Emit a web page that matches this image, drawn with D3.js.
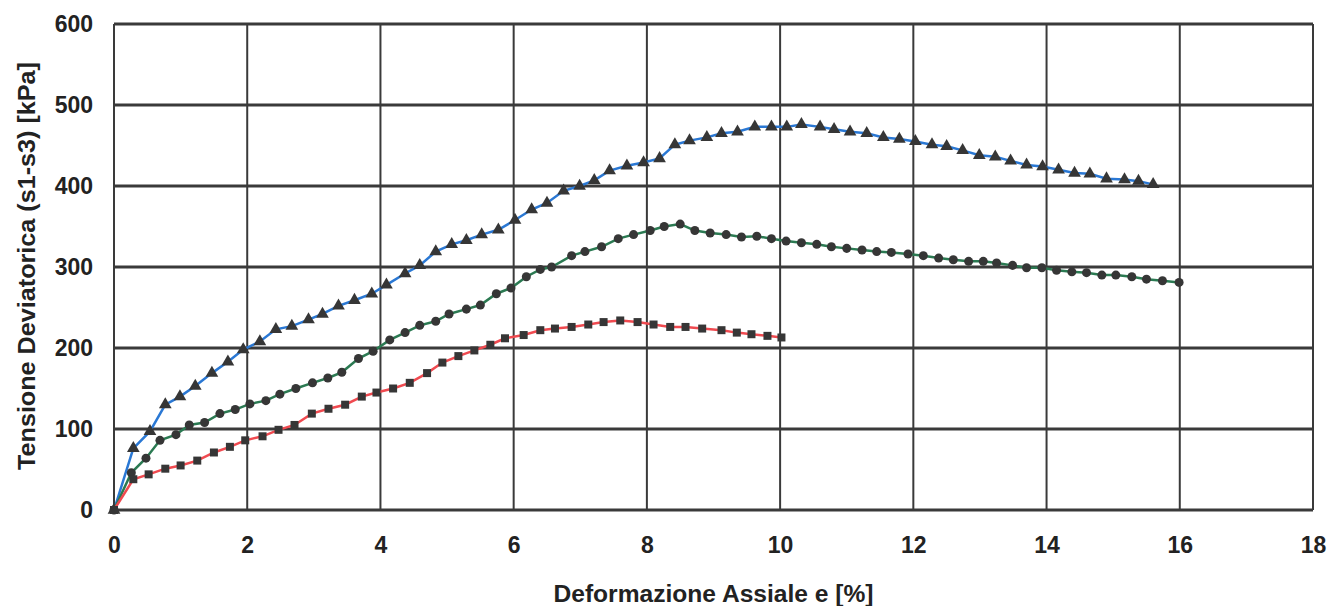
<!DOCTYPE html>
<html>
<head>
<meta charset="utf-8">
<script src="https://cdn.jsdelivr.net/npm/d3@7"></script>
<style>
html,body{margin:0;padding:0;background:#fff;}
svg text{font-family:"Liberation Sans",Arial,sans-serif;font-weight:bold;fill:#222;}
</style>
</head>
<body>
<svg id="chart" width="1329" height="606"></svg>
<script>
const xTicks = [0,2,4,6,8,10,12,14,16,18];
const yTicks = [0,100,200,300,400,500,600];
const xTitle = "Deformazione Assiale e [%]";
const yTitle = "Tensione Deviatorica (s1-s3) [kPa]";

const blueX = [0,0.29,0.54,0.77,0.99,1.22,1.47,1.71,1.94,2.19,2.43,2.67,2.92,3.13,3.37,3.61,3.87,4.09,4.37,4.59,4.83,5.07,5.29,5.52,5.77,6.02,6.27,6.50,6.75,6.99,7.21,7.44,7.70,7.95,8.19,8.42,8.64,8.90,9.12,9.36,9.62,9.87,10.10,10.32,10.60,10.81,11.05,11.30,11.55,11.79,12.03,12.28,12.50,12.74,12.99,13.23,13.46,13.70,13.94,14.18,14.42,14.65,14.90,15.17,15.38,15.60];
const blueY = [0,76,97,130,140,153,169,183,198,208,223,227,235,242,252,259,267,278,292,302,319,328,333,340,346,358,371,379,394,400,407,419,425,429,434,451,456,460,465,467,473,473,473,476,473,470,467,465,460,458,455,451,449,444,438,436,431,426,424,420,416,415,409,408,406,402];

const greenX = [0,0.26,0.48,0.69,0.93,1.13,1.36,1.59,1.82,2.04,2.28,2.49,2.73,2.98,3.21,3.42,3.67,3.89,4.14,4.37,4.59,4.83,5.03,5.29,5.50,5.74,5.96,6.19,6.40,6.57,6.87,7.07,7.32,7.57,7.80,8.05,8.26,8.50,8.72,8.95,9.19,9.42,9.65,9.87,10.09,10.32,10.55,10.77,11.00,11.23,11.45,11.67,11.92,12.15,12.38,12.60,12.83,13.05,13.25,13.49,13.70,13.93,14.15,14.38,14.60,14.83,15.04,15.28,15.50,15.74,15.99];
const greenY = [0,46,64,86,93,105,108,119,124,131,135,143,150,157,163,170,187,196,210,219,228,233,242,248,253,267,274,288,297,300,314,319,325,335,340,345,350,353,345,342,340,337,338,335,332,330,328,325,323,321,319,318,316,314,311,309,307,307,305,302,299,299,296,294,293,290,290,288,285,283,281];

const redX = [0,0.29,0.52,0.77,1.00,1.25,1.50,1.74,1.97,2.23,2.47,2.71,2.97,3.22,3.47,3.72,3.94,4.19,4.44,4.70,4.93,5.17,5.41,5.65,5.87,6.15,6.40,6.62,6.87,7.12,7.35,7.60,7.86,8.10,8.35,8.58,8.83,9.12,9.35,9.57,9.81,10.02];
const redY = [0,38,44,51,55,61,71,78,86,91,99,105,119,125,130,140,145,150,157,169,182,190,197,204,212,216,222,224,226,229,232,234,232,229,226,226,224,222,219,217,215,213];

const series = [
  {x: blueX, y: blueY, color: "#2a78d4", symbol: d3.symbolTriangle, size: 70},
  {x: greenX, y: greenY, color: "#2b7a52", symbol: d3.symbolCircle, size: 64},
  {x: redX, y: redY, color: "#f04a50", symbol: d3.symbolSquare, size: 64}
];

const svg = d3.select("#chart");
const L = 114, R = 1313, T = 24, B = 510;
const x = d3.scaleLinear().domain([0,18]).range([L,R]);
const y = d3.scaleLinear().domain([0,600]).range([B,T]);

// grid
const grid = svg.append("g");
grid.selectAll("line.v").data(xTicks).enter().append("line")
  .attr("x1", d=>x(d)).attr("x2", d=>x(d)).attr("y1", T).attr("y2", B)
  .attr("stroke", "#3a3a3a").attr("stroke-width", 2);
grid.selectAll("line.h").data(yTicks).enter().append("line")
  .attr("y1", d=>y(d)).attr("y2", d=>y(d)).attr("x1", L).attr("x2", R)
  .attr("stroke", "#3a3a3a").attr("stroke-width", 3);

// axes labels via d3 axes
const xAxis = svg.append("g").attr("transform", `translate(0,${B})`)
  .call(d3.axisBottom(x).tickValues(xTicks).tickSize(0).tickPadding(27));
xAxis.select(".domain").remove();
xAxis.selectAll("text").style("font-size","23px").attr("fill","#222");

const yAxis = svg.append("g").attr("transform", `translate(${L},0)`)
  .call(d3.axisLeft(y).tickValues(yTicks).tickSize(0).tickPadding(21));
yAxis.select(".domain").remove();
yAxis.selectAll("text").style("font-size","23px").attr("fill","#222");

// series
series.forEach(s => {
  const pts = s.x.map((v,i)=>[v, s.y[i]]);
  svg.append("path").datum(pts)
    .attr("fill","none").attr("stroke", s.color).attr("stroke-width", 2.5)
    .attr("d", d3.line().x(d=>x(d[0])).y(d=>y(d[1])));
  svg.append("g").selectAll("path").data(pts).enter().append("path")
    .attr("transform", d=>`translate(${x(d[0])},${y(d[1])})`)
    .attr("d", d3.symbol().type(s.symbol).size(s.size))
    .attr("fill", "#363636");
});

// titles
svg.append("text").attr("x", (L+R)/2).attr("y", 602)
  .attr("text-anchor","middle").style("font-size","23px")
  .attr("textLength", 320).attr("lengthAdjust","spacingAndGlyphs").text(xTitle);
svg.append("text").attr("transform", `translate(35,266) rotate(-90)`)
  .attr("text-anchor","middle").style("font-size","23px")
  .attr("textLength", 408).attr("lengthAdjust","spacingAndGlyphs").text(yTitle);
</script>
</body>
</html>
